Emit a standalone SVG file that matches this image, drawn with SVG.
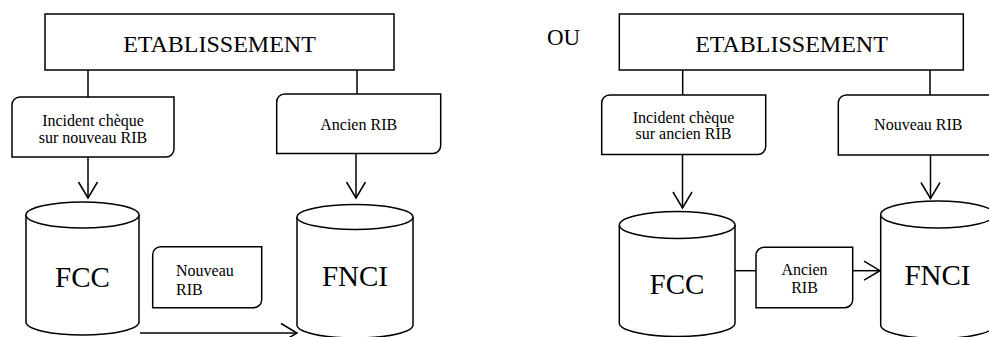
<svg xmlns="http://www.w3.org/2000/svg" width="989" height="337" viewBox="0 0 989 337">
<style>
.s{fill:#fff;stroke:#000;stroke-width:1.5}
.c{fill:none;stroke:#000;stroke-width:1.5}
text{font-family:"Liberation Serif","Times New Roman",serif;fill:#000}
.t24{font-size:24px;text-anchor:middle}
.t16{font-size:16px;text-anchor:middle}
.t29{font-size:29px;text-anchor:middle}
</style>
<defs>
<marker id="arr" viewBox="-17 -11 19 22" refX="0" refY="0" markerWidth="19" markerHeight="22" markerUnits="userSpaceOnUse" orient="auto">
<path d="M-16,-9.5 L0,0 L-16,9.5" fill="none" stroke="#000" stroke-width="1.5"/>
</marker>
</defs>
<rect width="989" height="337" fill="#fff"/>
<g id="connectors">
<path class="c" d="M88,70 V97"/>
<path class="c" d="M357,70 V94"/>
<path class="c" d="M88,157 V198" marker-end="url(#arr)"/>
<path class="c" d="M356,153.5 V198" marker-end="url(#arr)"/>
<path class="c" d="M140,333 H297" marker-end="url(#arr)"/>
<path class="c" d="M682.7,70 V95"/>
<path class="c" d="M930,70 V95"/>
<path class="c" d="M682.5,154.5 V208" marker-end="url(#arr)"/>
<path class="c" d="M930.5,155 V198.5" marker-end="url(#arr)"/>
<path class="c" d="M735,270.7 H756"/>
<path class="c" d="M852.7,270.7 H880" marker-end="url(#arr)"/>
</g>
<g id="etab1">
<rect class="s" x="45" y="14" width="349" height="56"/>
<text class="t24" x="219.5" y="52">ETABLISSEMENT</text>
</g>
<g id="incident1">
<path class="s" d="M20,97 H174 V149 A8,8 0 0 1 166,157 H12 V105 A8,8 0 0 1 20,97 Z"/>
<text class="t16" x="93" y="126">Incident chèque</text>
<text class="t16" x="93" y="143">sur nouveau RIB</text>
</g>
<g id="ancien1">
<path class="s" d="M284.7,94 H440.7 V145.5 A8,8 0 0 1 432.7,153.5 H276.7 V102 A8,8 0 0 1 284.7,94 Z"/>
<text class="t16" x="358.7" y="130">Ancien RIB</text>
</g>
<g id="fcc1">
<path class="s" d="M26,215 V322 A56.5,13 0 0 0 139,322 V215"/>
<ellipse class="s" cx="82.5" cy="215" rx="56.5" ry="13"/>
<text class="t29" x="82.5" y="287">FCC</text>
</g>
<g id="fnci1">
<path class="s" d="M297,217 V325 A58,13 0 0 0 413,325 V217"/>
<ellipse class="s" cx="355" cy="217" rx="58" ry="12.5"/>
<text class="t29" x="355" y="286">FNCI</text>
</g>
<g id="nouveau1">
<path class="s" d="M160.7,246.7 H261.7 V299.7 A8,8 0 0 1 253.7,307.7 H152.7 V254.7 A8,8 0 0 1 160.7,246.7 Z"/>
<text x="176" y="276" font-size="16">Nouveau</text>
<text x="176" y="295" font-size="16">RIB</text>
</g>
<g id="ou">
<text x="547" y="45" font-size="23">OU</text>
</g>
<g id="etab2">
<rect class="s" x="619.3" y="14" width="344" height="56"/>
<text class="t24" x="791.5" y="52">ETABLISSEMENT</text>
</g>
<g id="incident2">
<path class="s" d="M609.7,95 H765.7 V146.5 A8,8 0 0 1 757.7,154.5 H601.7 V103 A8,8 0 0 1 609.7,95 Z"/>
<text class="t16" x="683.5" y="122.7">Incident chèque</text>
<text class="t16" x="683.5" y="139.3">sur ancien RIB</text>
</g>
<g id="nouveau2">
<path class="s" d="M846.3,95 H998 V155 H838.3 V103 A8,8 0 0 1 846.3,95 Z"/>
<text class="t16" x="918.3" y="130">Nouveau RIB</text>
</g>
<g id="fcc2">
<path class="s" d="M619.3,225 V323 A57.8,13.5 0 0 0 735,323 V225"/>
<ellipse class="s" cx="677.2" cy="225" rx="57.8" ry="13.5"/>
<text class="t29" x="677" y="294">FCC</text>
</g>
<g id="ancien2">
<path class="s" d="M764,247.3 H852.7 V299.7 A8,8 0 0 1 844.7,307.7 H756 V255.3 A8,8 0 0 1 764,247.3 Z"/>
<text class="t16" x="804.5" y="275">Ancien</text>
<text class="t16" x="804.5" y="293.3">RIB</text>
</g>
<g id="fnci2">
<path class="s" d="M880.7,214.5 V325 A57,13.5 0 0 0 994.7,325 V214.5"/>
<ellipse class="s" cx="937.7" cy="214.5" rx="57" ry="13.5"/>
<text class="t29" x="937.5" y="285">FNCI</text>
</g>
</svg>
